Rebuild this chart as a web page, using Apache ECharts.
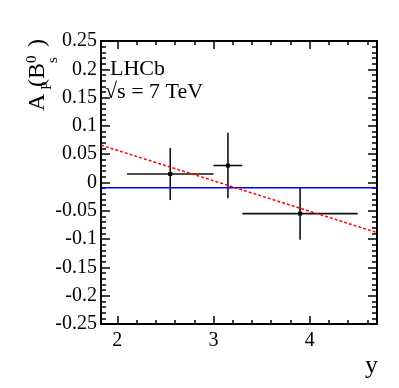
<!DOCTYPE html>
<html>
<head>
<meta charset="utf-8">
<script src="https://cdn.jsdelivr.net/npm/echarts@6/dist/echarts.min.js"></script>
<style>
  html, body { margin: 0; padding: 0; background: #fff; }
  #chart { width: 399px; height: 388px; }
</style>
</head>
<body>
<div id="chart"></div>
<script>
// measured points (rapidity bins)
var binCentre = [2.55, 3.15, 3.9];
var asym = [0.015, 0.030, -0.055];
var binLow = [2.1, 3.0, 3.3];
var binHigh = [3.0, 3.3, 4.5];
var asymErr = [0.046, 0.058, 0.046];

// constant fit and linear fit, ends at the frame edges
var constFit = [[1.83, -0.0094], [4.7, -0.0094]];
var linFit = [[1.83, 0.066], [4.7, -0.0885]];

var xMajor = [2, 3, 4];
var xMinor = [2.2, 2.4, 2.6, 2.8, 3.2, 3.4, 3.6, 3.8, 4.2, 4.4, 4.6];

var serif = '"Liberation Serif", "DejaVu Serif", serif';

var points = [];
for (var i = 0; i < binCentre.length; i++) {
  points.push([binCentre[i], asym[i], binLow[i], binHigh[i], asym[i] - asymErr[i], asym[i] + asymErr[i]]);
}

var chartDom = document.getElementById('chart');
var myChart = echarts.init(chartDom, null, { renderer: 'canvas' });

var xAxisBase = {
  type: 'value', min: 1.83, max: 4.7,
  splitLine: { show: false },
  axisLine: { show: true, onZero: false, lineStyle: { color: '#000', width: 2 } },
  axisLabel: { show: false }
};
var mk = function(extra) { return Object.assign({}, JSON.parse(JSON.stringify(xAxisBase)), extra); };

var option = {
  animation: false,
  grid: { left: 101, right: 22, top: 41, bottom: 64, containLabel: false, outerBoundsMode: 'none' },
  xAxis: [
    mk({ position: 'bottom',
      axisTick: { show: true, inside: true, length: 8, customValues: xMajor, lineStyle: { color: '#000', width: 1.5 } },
      axisLabel: { show: true, customValues: xMajor, margin: 7, color: '#000', fontSize: 20, fontFamily: serif } }),
    mk({ position: 'bottom',
      axisTick: { show: true, inside: true, length: 4, customValues: xMinor, lineStyle: { color: '#000', width: 1.5 } } }),
    mk({ position: 'top',
      axisTick: { show: true, inside: true, length: 8, customValues: xMajor, lineStyle: { color: '#000', width: 1.5 } } }),
    mk({ position: 'top',
      axisTick: { show: true, inside: true, length: 4, customValues: xMinor, lineStyle: { color: '#000', width: 1.5 } } })
  ],
  yAxis: [
    {
      type: 'value', position: 'left', min: -0.25, max: 0.25, interval: 0.05,
      splitLine: { show: false },
      axisLine: { show: true, onZero: false, lineStyle: { color: '#000', width: 2 } },
      axisTick: { show: true, inside: true, length: 9, lineStyle: { color: '#000', width: 1.5 } },
      minorTick: { show: true, splitNumber: 5, length: 5, lineStyle: { color: '#000', width: 1.5 } },
      axisLabel: {
        margin: 4, color: '#000', fontSize: 20, fontFamily: serif,
        formatter: function(v) { return String(parseFloat(v.toFixed(2))); }
      }
    },
    {
      type: 'value', position: 'right', min: -0.25, max: 0.25, interval: 0.05,
      splitLine: { show: false },
      axisLine: { show: true, onZero: false, lineStyle: { color: '#000', width: 2 } },
      axisTick: { show: true, inside: true, length: 9, lineStyle: { color: '#000', width: 1.5 } },
      minorTick: { show: true, splitNumber: 5, length: 5, lineStyle: { color: '#000', width: 1.5 } },
      axisLabel: { show: false }
    }
  ],
  series: [
    {
      type: 'line', data: constFit, symbol: 'none', silent: true,
      lineStyle: { color: '#0000ff', width: 1.5 }
    },
    {
      type: 'line', data: linFit, symbol: 'none', silent: true,
      lineStyle: { color: '#ff0000', width: 1.5, type: [3, 2] }
    },
    {
      type: 'custom', data: points,
      renderItem: function(params, api) {
        var c = api.coord([api.value(0), api.value(1)]);
        var l = api.coord([api.value(2), api.value(1)]);
        var r = api.coord([api.value(3), api.value(1)]);
        var lo = api.coord([api.value(0), api.value(4)]);
        var hi = api.coord([api.value(0), api.value(5)]);
        var st = { stroke: '#111', lineWidth: 1.6 };
        return {
          type: 'group',
          children: [
            { type: 'line', shape: { x1: l[0], y1: l[1], x2: r[0], y2: r[1] }, style: st },
            { type: 'line', shape: { x1: lo[0], y1: lo[1], x2: hi[0], y2: hi[1] }, style: st },
            { type: 'rect', shape: { x: c[0] - 2, y: c[1] - 2, width: 4, height: 4 }, style: { fill: '#000' } }
          ]
        };
      }
    }
  ],
  graphic: [
    { type: 'text', x: 110, y: 69, style: { text: 'LHCb', font: '22px ' + serif, fill: '#000', verticalAlign: 'middle' } },
    { type: 'text', x: 105, y: 92.5, style: { text: '\u221As = 7 TeV', font: '22px ' + serif, fill: '#000', verticalAlign: 'middle' } },
    { type: 'text', x: 365, y: 366, style: { text: 'y', font: '26px ' + serif, fill: '#000', verticalAlign: 'middle' } },
    {
      type: 'group', x: 45, y: 111, rotation: Math.PI / 2,
      children: [
        { type: 'text', x: 0, y: -7.5, style: { text: 'A', font: '24px ' + serif, fill: '#000', verticalAlign: 'middle' } },
        { type: 'text', x: 21, y: 2.5, style: { text: 'P', font: '15px ' + serif, fill: '#000', verticalAlign: 'middle' } },
        { type: 'text', x: 24, y: -7.5, style: { text: '(B', font: '24px ' + serif, fill: '#000', verticalAlign: 'middle' } },
        { type: 'text', x: 48, y: -13, style: { text: '0', font: '15px ' + serif, fill: '#000', verticalAlign: 'middle' } },
        { type: 'text', x: 48, y: 8.5, style: { text: 's', font: '15px ' + serif, fill: '#000', verticalAlign: 'middle' } },
        { type: 'text', x: 64, y: -7.5, style: { text: ')', font: '24px ' + serif, fill: '#000', verticalAlign: 'middle' } }
      ]
    }
  ]
};

myChart.setOption(option);
</script>
</body>
</html>
